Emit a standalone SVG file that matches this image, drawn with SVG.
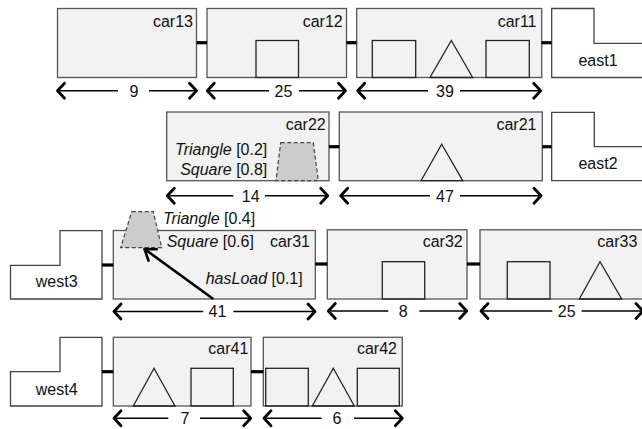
<svg xmlns="http://www.w3.org/2000/svg" width="642" height="429" viewBox="0 0 642 429">
<style>
text{font-family:"Liberation Sans",Arial,sans-serif;font-size:16px;fill:#111}
.car{fill:#f2f2f2;stroke:#555;stroke-width:1.3}
.eng{fill:#fff;stroke:#444;stroke-width:1.3}
.ld{fill:none;stroke:#222;stroke-width:1.3}
.dl{fill:#ccc;stroke:#444;stroke-width:1.2;stroke-dasharray:4 2.5}
.cpl{stroke:#000;stroke-width:3.2}
.dim{stroke:#000;stroke-width:1.6;fill:none}
.dim.s{marker-start:url(#chev)}
.dim.e{marker-end:url(#chev)}
.end{text-anchor:end}
.mid{text-anchor:middle}
.it{font-style:italic}
</style>
<defs>
<marker id="chev" markerUnits="userSpaceOnUse" markerWidth="16" markerHeight="22" viewBox="-12 -11 16 22" refX="0" refY="0" orient="auto-start-reverse">
<path d="M-7,-7.5 L0,0 L-7,7.5" fill="none" stroke="#000" stroke-width="2.8" stroke-linejoin="round" stroke-linecap="round"/>
</marker>
<marker id="chevBig" markerUnits="userSpaceOnUse" markerWidth="20" markerHeight="24" viewBox="-14 -12 18 24" refX="0" refY="0" orient="auto">
<path d="M-10,-7 L0,0 L-10,7" fill="none" stroke="#000" stroke-width="2.6" stroke-linejoin="round" stroke-linecap="round"/>
</marker>
</defs>

<!-- Row 1 -->
<g id="car13">
<rect class="car" x="57.5" y="8.5" width="139" height="69"/>
<text class="end" x="193" y="26.7">car13</text>
<path class="dim s" d="M57.5,90.7 H118"/><path class="dim e" d="M149,90.7 H196.5"/>
<text class="mid" x="134" y="96.5">9</text>
</g>
<g id="car12">
<rect class="car" x="207" y="8.5" width="139.5" height="69"/>
<rect class="ld" x="256" y="40.5" width="42.5" height="37"/>
<text class="end" x="342.7" y="26.7">car12</text>
<path class="dim s" d="M207.3,90.7 H269"/><path class="dim e" d="M299,90.7 H345.5"/>
<text class="mid" x="283.5" y="96.5">25</text>
</g>
<g id="car11">
<rect class="car" x="356.7" y="8.5" width="185" height="69"/>
<rect class="ld" x="372.3" y="40.5" width="43.4" height="37"/>
<path class="ld" d="M430,77.5 L451.3,40.5 L472.7,77.5 Z"/>
<rect class="ld" x="486" y="40.5" width="43.3" height="37"/>
<text class="end" x="536.5" y="26.7">car11</text>
<path class="dim s" d="M357.7,90.7 H428"/><path class="dim e" d="M460,90.7 H540.7"/>
<text class="mid" x="445" y="96.5">39</text>
</g>
<g id="east1">
<path class="eng" d="M551.7,8.5 H594 V43.3 H650 V77.5 H551.7 Z"/>
<text class="mid" x="598" y="66">east1</text>
</g>

<!-- Row 2 -->
<g id="car22">
<rect class="car" x="166.7" y="112" width="162.3" height="68.7"/>
<text class="end" x="325.7" y="129.5">car22</text>
<path class="dl" d="M280.7,142.7 H313.3 L318.3,180.7 H276 Z"/>
<text class="end" x="267.3" y="154.5"><tspan class="it">Triangle</tspan> [0.2]</text>
<text class="end" x="267.3" y="175.3"><tspan class="it">Square</tspan> [0.8]</text>
<path class="dim s" d="M167.3,195.7 H233.3"/><path class="dim e" d="M265,195.7 H327.7"/>
<text class="mid" x="250.7" y="201.5">14</text>
</g>
<g id="car21">
<rect class="car" x="339.3" y="112" width="203" height="68.7"/>
<path class="ld" d="M421,180.7 L441.7,144.3 L462.7,180.7 Z"/>
<text class="end" x="536.5" y="129.5">car21</text>
<path class="dim s" d="M340.7,195.7 H430"/><path class="dim e" d="M460,195.7 H541"/>
<text class="mid" x="445" y="201.5">47</text>
</g>
<g id="east2">
<path class="eng" d="M551.7,112.3 H594.3 V146.7 H650 V180.7 H551.7 Z"/>
<text class="mid" x="598" y="169">east2</text>
</g>

<!-- Row 3 -->
<g id="west3">
<path class="eng" d="M10.5,265.3 H60 V230.7 H102 V299 H10.5 Z"/>
<text class="mid" x="56.7" y="286.5">west3</text>
</g>
<g id="car31">
<rect class="car" x="113.3" y="230.5" width="202" height="68.5"/>
<text class="end" x="310" y="247">car31</text>
<text x="163" y="223.5"><tspan class="it">Triangle</tspan> [0.4]</text>
<text x="166.7" y="246.5"><tspan class="it">Square</tspan> [0.6]</text>
<text class="end" x="302.7" y="283.5"><tspan class="it">hasLoad</tspan> [0.1]</text>
<path class="dim s" d="M114,311.5 H203.3"/><path class="dim e" d="M233.3,311.5 H315"/>
<text class="mid" x="217.5" y="317.3">41</text>
</g>
<g id="load31">
<path class="dl" d="M131.7,211.7 H153.3 L161.7,247.7 H120.7 Z"/>
</g>
<g id="car32">
<rect class="car" x="327.3" y="229.8" width="139.7" height="69.2"/>
<rect class="ld" x="382.3" y="261.7" width="42.4" height="37.3"/>
<text class="end" x="462.7" y="247.3">car32</text>
<path class="dim s" d="M328.3,311 H388.3"/><path class="dim e" d="M419.3,311 H466.7"/>
<text class="mid" x="403.3" y="316.8">8</text>
</g>
<g id="car33">
<rect class="car" x="480" y="229.8" width="164" height="69.2"/>
<rect class="ld" x="507.3" y="261.7" width="42.7" height="37.3"/>
<path class="ld" d="M579.3,299 L600,261.7 L621.7,299 Z"/>
<text class="end" x="637.3" y="247.3">car33</text>
<path class="dim s" d="M481,311 H552.3"/><path class="dim e" d="M581.7,311 H643"/>
<text class="mid" x="566.7" y="316.8">25</text>
</g>

<!-- Row 4 -->
<g id="west4">
<path class="eng" d="M10.5,371.7 H60 V337.3 H102 V406 H10.5 Z"/>
<text class="mid" x="56.7" y="394.5">west4</text>
</g>
<g id="car41">
<rect class="car" x="113.3" y="337.3" width="137.7" height="68.7"/>
<path class="ld" d="M133.3,406 L154,368.3 L175,406 Z"/>
<rect class="ld" x="191" y="368.3" width="42.3" height="37.7"/>
<text class="end" x="248.3" y="353.8">car41</text>
<path class="dim s" d="M114,418.3 H168.3"/><path class="dim e" d="M200,418.3 H250.7"/>
<text class="mid" x="185" y="424.1">7</text>
</g>
<g id="car42">
<rect class="car" x="263.3" y="337.3" width="139" height="68.7"/>
<rect class="ld" x="265.7" y="368.3" width="42.6" height="37.7"/>
<path class="ld" d="M312.3,406 L333.3,368.3 L354.3,406 Z"/>
<rect class="ld" x="357.3" y="368.3" width="42" height="37.7"/>
<text class="end" x="397" y="353.8">car42</text>
<path class="dim s" d="M264,418.3 H321.7"/><path class="dim e" d="M354,418.3 H402.3"/>
<text class="mid" x="337" y="424.1">6</text>
</g>

<g id="connectors">
<line class="cpl" x1="196.7" y1="42.7" x2="207" y2="42.7"/>
<line class="cpl" x1="346.5" y1="42.7" x2="356.7" y2="42.7"/>
<line class="cpl" x1="541.7" y1="42.7" x2="551.7" y2="42.7"/>
<line class="cpl" x1="329" y1="146.7" x2="339.3" y2="146.7"/>
<line class="cpl" x1="542.3" y1="146.7" x2="551.7" y2="146.7"/>
<line class="cpl" x1="102" y1="265" x2="113.3" y2="265"/>
<line class="cpl" x1="315.3" y1="264" x2="327.3" y2="264"/>
<line class="cpl" x1="467" y1="264" x2="480" y2="264"/>
<line class="cpl" x1="102" y1="371.7" x2="113.3" y2="371.7"/>
<line class="cpl" x1="251" y1="371.7" x2="263.3" y2="371.7"/>
<line x1="213.3" y1="299" x2="144.5" y2="249" stroke="#000" stroke-width="2.6" marker-end="url(#chevBig)"/>
</g>
</svg>
